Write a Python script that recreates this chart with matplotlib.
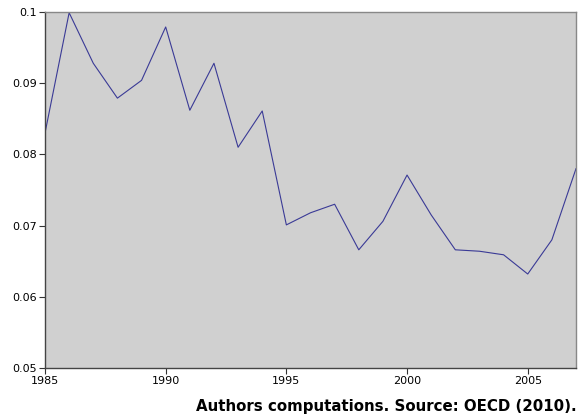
import matplotlib
matplotlib.use("Agg")
import matplotlib.pyplot as plt

years = list(range(1985, 2008))
values = [0.0830, 0.0999, 0.0928, 0.0879, 0.0904, 0.0979, 0.0862, 0.0928,
          0.0810, 0.0861, 0.0701, 0.0718, 0.0730, 0.0666, 0.0706, 0.0771,
          0.0715, 0.0666, 0.0664, 0.0659, 0.0632, 0.0680, 0.0780]
xticks = [1985, 1990, 1995, 2000, 2005]
yticks = [0.05, 0.06, 0.07, 0.08, 0.09, 0.1]
caption = "Authors computations. Source: OECD (2010)."

fig = plt.figure(figsize=(5.8, 4.2), dpi=100)
ax = fig.add_axes([45 / 580, 1 - 368 / 420, 531 / 580, 356 / 420])
ax.set_facecolor("#d0d0d0")
ax.plot(years, values, color="#3a3a96", lw=0.8)

ax.set_xlim(1985, 2007)
ax.set_ylim(0.05, 0.1)
ax.set_xticks(xticks)
ax.set_yticks(yticks)
ax.set_yticklabels(["0.05", "0.06", "0.07", "0.08", "0.09", "0.1"])
ax.tick_params(labelsize=8, length=4, width=0.8, color="#333333", pad=2)

for side in ("left", "bottom"):
    ax.spines[side].set_color("#444444")
    ax.spines[side].set_linewidth(1.0)
for side in ("top", "right"):
    ax.spines[side].set_color("#888888")
    ax.spines[side].set_linewidth(1.0)

fig.text(577 / 580, 1 - 406 / 420, caption, ha="right", va="center",
         fontsize=10.8, fontweight="bold")

fig.savefig("out.png", dpi=100)
